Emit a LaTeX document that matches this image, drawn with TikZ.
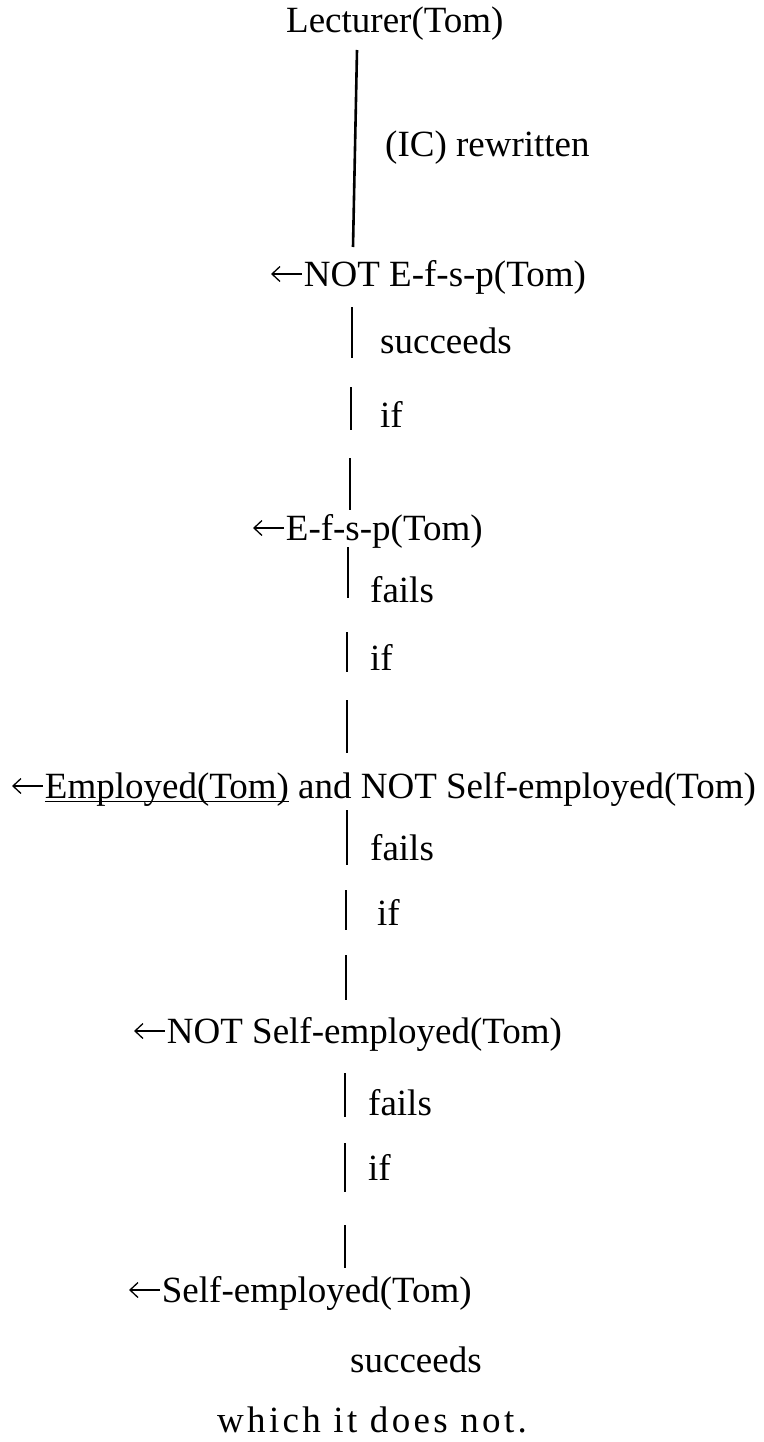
\documentclass[tikz,border=0pt]{standalone}
\usepackage{fontspec}
\usetikzlibrary{arrows.meta}
\setmainfont{Liberation Serif}
% underline that sits just below the baseline and cuts through descenders
\newcommand\ulword[1]{\setbox0\hbox{#1}\rlap{\rule[-4pt]{\wd0}{1.3pt}}\box0\relax}
% goal arrow at the height of the middle of the capitals
\newcommand\goalarr{\tikz[baseline=0pt,x=1pt,y=1pt]{%
  \draw[line width=1.7pt, {Straight Barb[length=8pt,width=15pt,line width=1.3pt]}-]
    (0,12) -- (31,12);}\hspace{1pt}}

\begin{document}
\begin{tikzpicture}[x=1pt,y=-1pt,
  txt/.style={anchor=base west, inner sep=0pt, font=\fontsize{37}{40}\selectfont},
  link/.style={line width=2.6pt}]
\useasboundingbox (0,0) rectangle (763,1442);

% goals of the derivation
\node[txt] (lect)  at (286,33)   {Lecturer(Tom)};
\node[txt] (notE)  at (270,286)  {\goalarr NOT E-f-s-p(Tom)};
\node[txt] (efsp)  at (252,540)  {\goalarr E-f-s-p(Tom)};
\node[txt] (emp)   at (11,798)   {\goalarr\ulword{Employed(Tom)} and NOT Self-employed(Tom)};
\node[txt] (notS)  at (133,1043) {\goalarr NOT Self-employed(Tom)};
\node[txt] (self)  at (128,1302) {\goalarr Self-employed(Tom)};

% step annotations
\node[txt] (ic)    at (385,157)  {(IC) rewritten};
\node[txt] (suc1)  at (380,353)  {succeeds};
\node[txt] (if1)   at (380,427)  {if};
\node[txt] (fail1) at (370,602)  {fails};
\node[txt] (if2)   at (370,670)  {if};
\node[txt] (fail2) at (370,860)  {fails};
\node[txt] (if3)   at (377,925)  {if};
\node[txt] (fail3) at (368,1115) {fails};
\node[txt] (if4)   at (368,1180) {if};
\node[txt] (suc2)  at (350,1372) {succeeds};
\node[txt] (which) at (217,1432) {\addfontfeatures{LetterSpace=9}which it does not.};

% vertical links between the goals
\coordinate (l1a) at (357,50);   \coordinate (l1b) at (353,247);
\coordinate (l2a) at (352,307);  \coordinate (l2b) at (352,358);
\coordinate (l3a) at (351,387);  \coordinate (l3b) at (351,430);
\coordinate (l4a) at (350,458);  \coordinate (l4b) at (350,510);
\coordinate (l5a) at (348,547);  \coordinate (l5b) at (348,598);
\coordinate (l6a) at (347,632);  \coordinate (l6b) at (347,672);
\coordinate (l7a) at (347,700);  \coordinate (l7b) at (347,753);
\coordinate (l8a) at (347,810);  \coordinate (l8b) at (347,865);
\coordinate (l9a) at (346,890);  \coordinate (l9b) at (346,930);
\coordinate (l10a) at (346,955); \coordinate (l10b) at (346,1000);
\coordinate (l11a) at (345,1073); \coordinate (l11b) at (345,1117);
\coordinate (l12a) at (345,1143); \coordinate (l12b) at (345,1192);
\coordinate (l13a) at (345,1225); \coordinate (l13b) at (345,1268);

\foreach \i in {1,...,13} \draw[link] (l\i a) -- (l\i b);
\end{tikzpicture}
\end{document}
